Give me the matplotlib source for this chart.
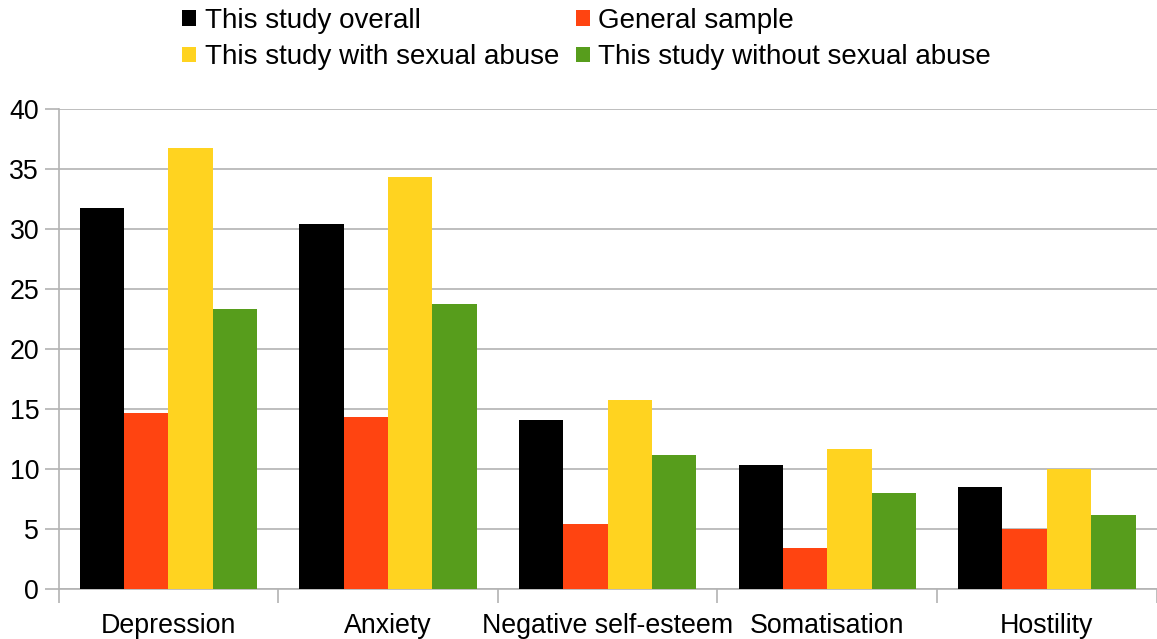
import numpy as np
import matplotlib.pyplot as plt
from matplotlib.patches import Patch

plt.rcParams['font.family'] = ['Liberation Sans', 'DejaVu Sans']

categories = ['Depression', 'Anxiety', 'Negative self-esteem', 'Somatisation', 'Hostility']
series_names = ['This study overall', 'General sample',
                'This study with sexual abuse', 'This study without sexual abuse']
overall = [31.75, 30.4, 14.1, 10.3, 8.5]
general = [14.7, 14.3, 5.4, 3.4, 5.0]
with_abuse = [36.75, 34.3, 15.75, 11.7, 10.0]
without_abuse = [23.3, 23.75, 11.2, 8.0, 6.2]
colors = ['#000000', '#ff4411', '#ffd320', '#579d1c']

fig = plt.figure(figsize=(11.57, 6.39), dpi=100)
ax = fig.add_axes([0.0507, 0.0782, 0.9490, 0.7512])

x = np.arange(len(categories))
w = 0.202
for i, vals in enumerate([overall, general, with_abuse, without_abuse]):
    ax.bar(x + (i - 1.5) * w, vals, width=w, color=colors[i], zorder=3)

ax.set_xlim(-0.5, len(categories) - 0.5)
ax.set_ylim(0, 40)
ax.set_yticks(range(0, 41, 5))
ax.yaxis.grid(True, color='#b3b3b3', linewidth=1.2, zorder=0)

# category names centred, tick marks on the boundaries
ax.set_xticks(np.arange(-0.5, len(categories)), minor=False)
ax.set_xticklabels([])
ax.set_xticks(x, minor=True)
ax.set_xticklabels(categories, minor=True, fontsize=19.3)
ax.tick_params(axis='x', which='minor', length=0, pad=17.5)
ax.tick_params(axis='x', which='major', length=10, color='#b3b3b3', width=1.2)
ax.tick_params(axis='y', length=10, color='#b3b3b3', width=1.2, labelsize=19.3, pad=4)

for s in ['top', 'right']:
    ax.spines[s].set_visible(False)
for s in ['left', 'bottom']:
    ax.spines[s].set_color('#b3b3b3')
    ax.spines[s].set_linewidth(1.2)

# legend fills column-wise, so order the entries to read row by row
order = [0, 2, 1, 3]
handles = [Patch(facecolor=colors[k]) for k in order]
labels = [series_names[k] for k in order]
fig.legend(handles, labels, ncol=2, loc='upper center',
           bbox_to_anchor=(0.507, 1.027), frameon=False, fontsize=20,
           handlelength=0.5, handleheight=0.5, handletextpad=0.3,
           columnspacing=0.6, labelspacing=0.38)

plt.savefig('out.png', dpi=100)
